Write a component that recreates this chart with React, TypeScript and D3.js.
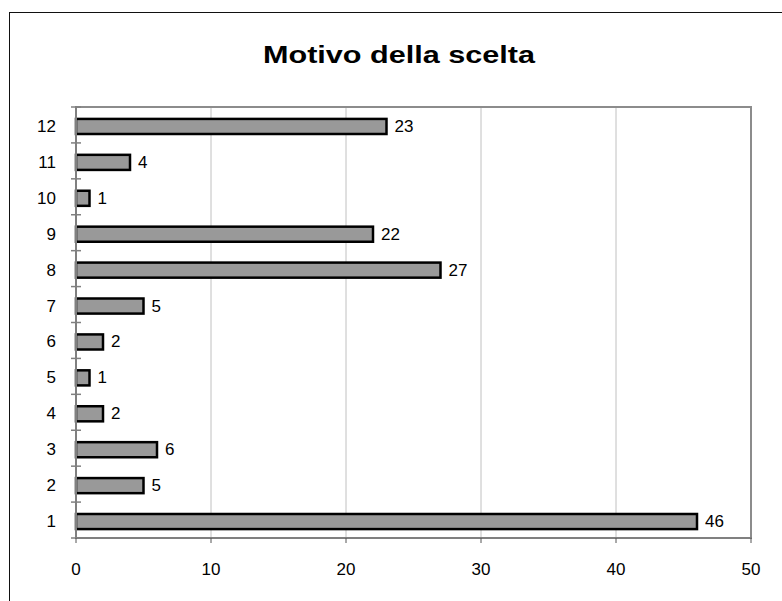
import React from "react";
import * as d3 from "d3";

const categories: string[] = ["1", "2", "3", "4", "5", "6", "7", "8", "9", "10", "11", "12"];
const values: number[] = [46, 5, 6, 2, 1, 2, 5, 27, 22, 1, 4, 23];
const xTicks: number[] = [0, 10, 20, 30, 40, 50];
const title = "Motivo della scelta";

const W = 782;
const H = 601;
const plot = { left: 76, right: 751, top: 107, bottom: 538 };
const FONT = "Arial, 'Liberation Sans', sans-serif";

export default function App() {
  const x = d3.scaleLinear().domain([0, 50]).range([plot.left, plot.right]);
  const y = d3
    .scaleBand<string>()
    .domain(categories)
    .range([plot.bottom, plot.top])
    .paddingInner(0)
    .paddingOuter(0);
  const bw = y.bandwidth();
  const barH = bw * 0.42;
  const boundaries = d3.range(categories.length + 1).map((i) => plot.bottom - i * bw);

  return (
    <svg
      width={W}
      height={H}
      style={{ position: "absolute", left: 0, top: 0, background: "#fff" }}
      fontFamily={FONT}
    >
      <rect x={9.5} y={12.5} width={800} height={700} fill="#fff" stroke="#111" strokeWidth={1} />
      <text
        x={399}
        y={62.5}
        textAnchor="middle"
        fontSize={23}
        fontWeight="bold"
        textLength={272}
        lengthAdjust="spacingAndGlyphs"
        fill="#000"
      >
        {title}
      </text>

      {/* gridlines */}
      {xTicks.slice(1, -1).map((t) => (
        <line key={"g" + t} x1={x(t)} x2={x(t)} y1={plot.top} y2={plot.bottom} stroke="#c0c0c0" strokeWidth={1} />
      ))}

      {/* plot border top/right */}
      <line x1={plot.left} x2={plot.right} y1={plot.top} y2={plot.top} stroke="#8c8c8c" strokeWidth={2} />
      <line x1={plot.right} x2={plot.right} y1={plot.top - 1} y2={plot.bottom} stroke="#8c8c8c" strokeWidth={2} />

      {/* bars */}
      {categories.map((c, i) => {
        const cy = (y(c) as number) + bw / 2 + 1.5;
        return (
          <g key={"b" + c}>
            <rect
              x={x(0)}
              y={cy - barH / 2}
              width={x(values[i]) - x(0)}
              height={barH}
              fill="#999999"
              stroke="#000"
              strokeWidth={2.5}
            />
            <text x={x(values[i]) + 8} y={cy} dominantBaseline="central" fontSize={17} fill="#000">
              {values[i]}
            </text>
          </g>
        );
      })}

      {/* y axis */}
      <line x1={plot.left} x2={plot.left} y1={plot.top - 1} y2={plot.bottom + 1} stroke="#808080" strokeWidth={2} />
      {boundaries.map((b, i) => (
        <line key={"yt" + i} x1={plot.left - 5} x2={plot.left + 5} y1={b} y2={b} stroke="#808080" strokeWidth={1.5} />
      ))}
      {categories.map((c) => (
        <text
          key={"yl" + c}
          x={56}
          y={(y(c) as number) + bw / 2 + 1.5}
          textAnchor="end"
          dominantBaseline="central"
          fontSize={17}
          fill="#000"
        >
          {c}
        </text>
      ))}

      {/* x axis */}
      <line x1={plot.left} x2={plot.right + 1} y1={plot.bottom} y2={plot.bottom} stroke="#808080" strokeWidth={2} />
      {xTicks.map((t) => (
        <g key={"xt" + t}>
          <line x1={x(t)} x2={x(t)} y1={plot.bottom} y2={plot.bottom + 5} stroke="#555" strokeWidth={1} />
          <text x={x(t)} y={569.5} textAnchor="middle" dominantBaseline="central" fontSize={17} fill="#000">
            {t}
          </text>
        </g>
      ))}
    </svg>
  );
}
